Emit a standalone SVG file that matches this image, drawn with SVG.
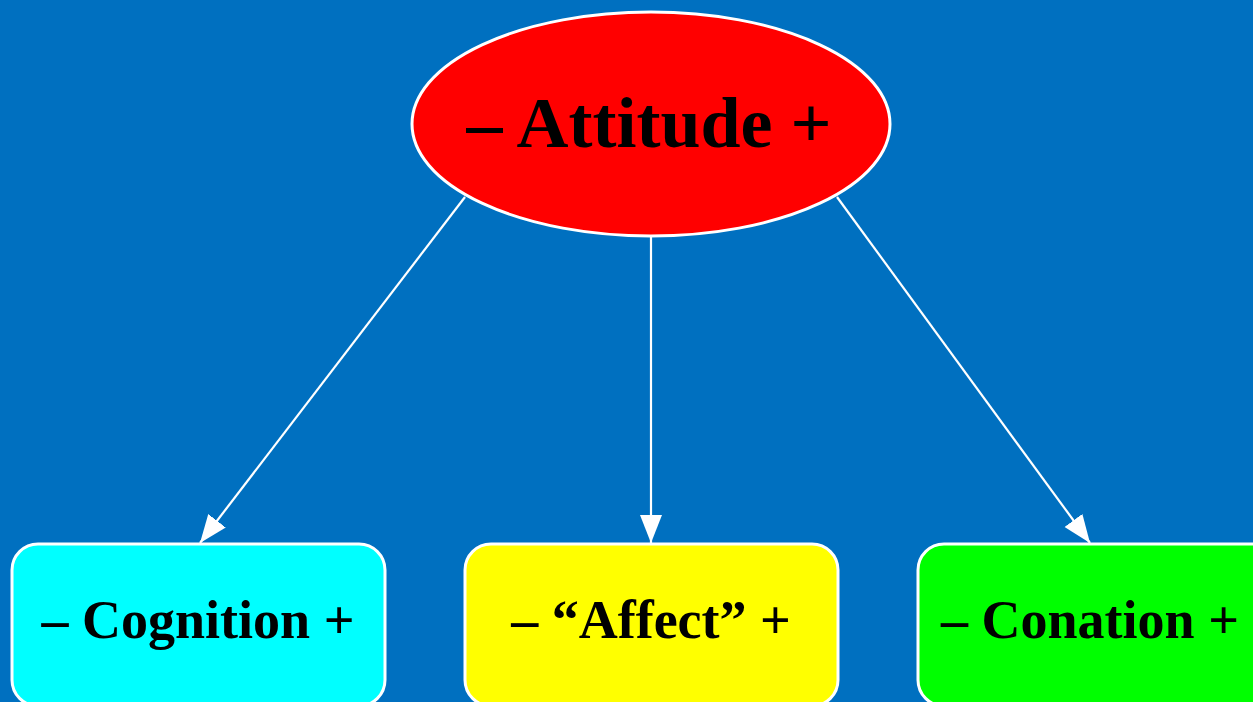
<svg xmlns="http://www.w3.org/2000/svg" width="1253" height="702" viewBox="0 0 1253 702">
<defs>
<marker id="ah" markerUnits="userSpaceOnUse" markerWidth="30" markerHeight="24" refX="28" refY="11" orient="auto">
<path d="M0,0 L28,11 L0,22 Z" fill="#ffffff"/>
</marker>
<style>
.lbl{font-family:"Liberation Serif","Times New Roman",serif;font-weight:bold;fill:#000;text-anchor:middle}
.box{stroke:#ffffff;stroke-width:3}
.edge{stroke:#ffffff;stroke-width:2.2;fill:none;marker-end:url(#ah)}
</style>
</defs>
<rect x="0" y="0" width="1253" height="702" fill="#0070C0"/>
<g id="connectors">
<line class="edge" x1="465" y1="197" x2="200" y2="543"/>
<line class="edge" x1="651" y1="237" x2="651" y2="543"/>
<line class="edge" x1="837" y1="197" x2="1090" y2="543"/>
</g>
<g id="attitude">
<ellipse cx="651" cy="124" rx="239" ry="112" fill="#ff0000" class="box"/>
<text class="lbl" x="649" y="147" font-size="72">– Attitude +</text>
</g>
<g id="cognition">
<rect x="12" y="544" width="373" height="162" rx="26" fill="#00ffff" class="box"/>
<text class="lbl" x="198" y="638" font-size="54">– Cognition +</text>
</g>
<g id="affect">
<rect x="465" y="544" width="373" height="162" rx="26" fill="#ffff00" class="box"/>
<text class="lbl" x="651" y="638" font-size="54">– “Affect” +</text>
</g>
<g id="conation">
<rect x="918" y="544" width="373" height="162" rx="26" fill="#00ff00" class="box"/>
<text class="lbl" x="1090" y="638" font-size="54">– Conation +</text>
</g>
</svg>
